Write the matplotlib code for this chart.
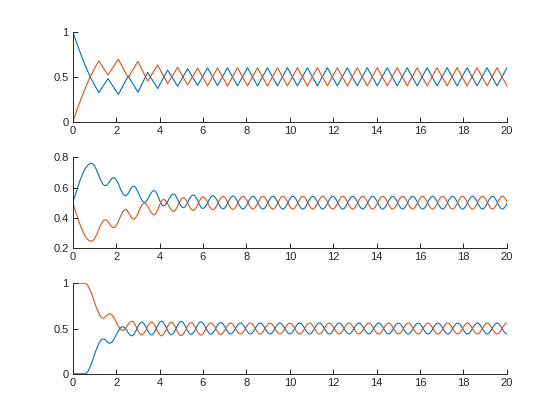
import matplotlib
matplotlib.use('Agg')
import matplotlib.pyplot as plt
from matplotlib.path import Path
from matplotlib.patches import PathPatch

plt.rcParams['font.family'] = ['Liberation Sans', 'DejaVu Sans']

# valeurs (extrema des courbes)
top_t = [0, 0.2, 0.4, 0.6, 0.8, 1.0, 1.2, 1.62, 2.1, 2.55, 3.0, 3.45, 3.91, 4.37, 4.83, 5.29,
         5.75, 6.21, 6.67, 7.13, 7.59, 8.05, 8.51, 8.97, 9.43, 9.89, 10.35, 10.81, 11.27, 11.73,
         12.19, 12.65, 13.11, 13.57, 14.03, 14.49, 14.95, 15.41, 15.87, 16.33, 16.79, 17.25,
         17.71, 18.17, 18.63, 19.09, 19.55, 20.01]
top_blue = [1.0, 0.86, 0.73, 0.61, 0.5, 0.41, 0.325, 0.48, 0.305, 0.51, 0.33, 0.548, 0.37, 0.574,
            0.395, 0.59, 0.405, 0.598, 0.403,
            0.6, 0.4, 0.6, 0.4, 0.6, 0.4, 0.6, 0.4, 0.6, 0.4, 0.6, 0.4, 0.6, 0.4, 0.6, 0.4,
            0.6, 0.4, 0.6, 0.4, 0.6, 0.4, 0.6, 0.4, 0.6, 0.4, 0.6, 0.4, 0.6]
top_orange = [0.0, 0.14, 0.27, 0.39, 0.5, 0.59, 0.675, 0.52, 0.695, 0.49, 0.67, 0.452, 0.63, 0.426,
              0.605, 0.41, 0.595, 0.402, 0.597,
              0.4, 0.6, 0.4, 0.6, 0.4, 0.6, 0.4, 0.6, 0.4, 0.6, 0.4, 0.6, 0.4, 0.6, 0.4, 0.6,
              0.4, 0.6, 0.4, 0.6, 0.4, 0.6, 0.4, 0.6, 0.4, 0.6, 0.4, 0.6, 0.4]

mid_t = [0, 0.86, 1.5, 1.88, 2.43, 2.8, 3.3, 3.74, 4.18, 4.64, 5.09, 5.55, 6.0, 6.46, 6.92, 7.38,
         7.84, 8.30, 8.76, 9.22, 9.68, 10.14, 10.60, 11.06, 11.52, 11.98, 12.44, 12.90, 13.36,
         13.82, 14.28, 14.74, 15.20, 15.66, 16.12, 16.58, 17.04, 17.50, 17.96, 18.42, 18.88,
         19.34, 19.80, 20.26]
mid_blue = [0.5, 0.76, 0.613, 0.665, 0.546, 0.609, 0.503, 0.58, 0.479, 0.557, 0.467, 0.551, 0.462,
            0.546, 0.459, 0.544, 0.458,
            0.542, 0.458, 0.542, 0.458, 0.542, 0.458, 0.542, 0.458, 0.542, 0.458, 0.542, 0.458,
            0.542, 0.458, 0.542, 0.458, 0.542, 0.458, 0.542, 0.458, 0.542, 0.458, 0.542, 0.458,
            0.542, 0.458, 0.542]
mid_orange = [0.5, 0.245, 0.387, 0.335, 0.454, 0.391, 0.497, 0.42, 0.521, 0.443, 0.533, 0.449,
              0.538, 0.454, 0.541, 0.456, 0.542,
              0.458, 0.542, 0.458, 0.542, 0.458, 0.542, 0.458, 0.542, 0.458, 0.542, 0.458, 0.542,
              0.458, 0.542, 0.458, 0.542, 0.458, 0.542, 0.458, 0.542, 0.458, 0.542, 0.458, 0.542,
              0.458, 0.542, 0.458]

bot_t = [0, 0.55, 1.4, 1.7, 2.3, 2.72, 3.175, 3.63, 4.085, 4.54, 4.995, 5.45, 5.905, 6.36, 6.815,
         7.27, 7.725, 8.18, 8.635, 9.09, 9.545, 10.0, 10.455, 10.91, 11.365, 11.82, 12.275,
         12.73, 13.185, 13.64, 14.095, 14.55, 15.005, 15.46, 15.915, 16.37, 16.825, 17.28,
         17.735, 18.19, 18.645, 19.1, 19.555, 20.01]
bot_blue = [0, 0, 0.385, 0.338, 0.52, 0.42, 0.57, 0.43, 0.58, 0.432, 0.578, 0.436, 0.572, 0.438,
            0.566, 0.44,
            0.56, 0.44, 0.56, 0.44, 0.56, 0.44, 0.56, 0.44, 0.56, 0.44, 0.56, 0.44, 0.56, 0.44,
            0.56, 0.44, 0.56, 0.44, 0.56, 0.44, 0.56, 0.44, 0.56, 0.44, 0.56, 0.44, 0.56, 0.44]
bot_orange = [1, 1, 0.615, 0.662, 0.48, 0.58, 0.43, 0.57, 0.42, 0.568, 0.422, 0.564, 0.428, 0.562,
              0.434, 0.56,
              0.44, 0.56, 0.44, 0.56, 0.44, 0.56, 0.44, 0.56, 0.44, 0.56, 0.44, 0.56, 0.44, 0.56,
              0.44, 0.56, 0.44, 0.56, 0.44, 0.56, 0.44, 0.56, 0.44, 0.56, 0.44, 0.56, 0.44, 0.56]

xticks = [0, 2, 4, 6, 8, 10, 12, 14, 16, 18, 20]
xlabels = ['0', '2', '4', '6', '8', '10', '12', '14', '16', '18', '20']

BLUE = '#0072BD'
ORANGE = '#D95319'
AXC = '#262626'


def wave_patch(ts, vs, color, slope0=0.0, k=0.364):
    # courbe lisse passant par les extrema (tangente horizontale)
    verts = [(ts[0], vs[0])]
    codes = [Path.MOVETO]
    for i in range(len(ts) - 1):
        h = ts[i + 1] - ts[i]
        s = slope0 if i == 0 else 0.0
        verts += [(ts[i] + k * h, vs[i] + s * k * h),
                  (ts[i + 1] - k * h, vs[i + 1]),
                  (ts[i + 1], vs[i + 1])]
        codes += [Path.CURVE4] * 3
    return PathPatch(Path(verts, codes), fill=False, edgecolor=color, lw=0.8)


def style_axes(ax, ylim, yticks, ylabels):
    ax.set_xlim(0, 20)
    ax.set_ylim(*ylim)
    ax.set_xticks(xticks)
    ax.set_xticklabels(xlabels)
    ax.set_yticks(yticks)
    ax.set_yticklabels(ylabels)
    ax.spines['top'].set_visible(False)
    ax.spines['right'].set_visible(False)
    for s in ['left', 'bottom']:
        ax.spines[s].set_color(AXC)
        ax.spines[s].set_linewidth(0.7)
    ax.tick_params(direction='in', length=3.5, width=0.7, colors=AXC, labelsize=8, pad=3)


fig = plt.figure(figsize=(5.6, 4.2), dpi=100)
ax1 = fig.add_axes([0.13, 0.7093, 0.775, 0.2157])
ax2 = fig.add_axes([0.13, 0.4096, 0.775, 0.2157])
ax3 = fig.add_axes([0.13, 0.11, 0.775, 0.2157])

ax1.plot(top_t, top_blue, color=BLUE, lw=0.8)
ax1.plot(top_t, top_orange, color=ORANGE, lw=0.8)
style_axes(ax1, (0, 1), [0, 0.5, 1], ['0', '0.5', '1'])

ax2.add_patch(wave_patch(mid_t, mid_blue, BLUE, slope0=0.45))
ax2.add_patch(wave_patch(mid_t, mid_orange, ORANGE, slope0=-0.45))
style_axes(ax2, (0.2, 0.8), [0.2, 0.4, 0.6, 0.8], ['0.2', '0.4', '0.6', '0.8'])

ax3.add_patch(wave_patch(bot_t, bot_blue, BLUE))
ax3.add_patch(wave_patch(bot_t, bot_orange, ORANGE))
style_axes(ax3, (0, 1), [0, 0.5, 1], ['0', '0.5', '1'])

fig.savefig('out.png', dpi=100)
